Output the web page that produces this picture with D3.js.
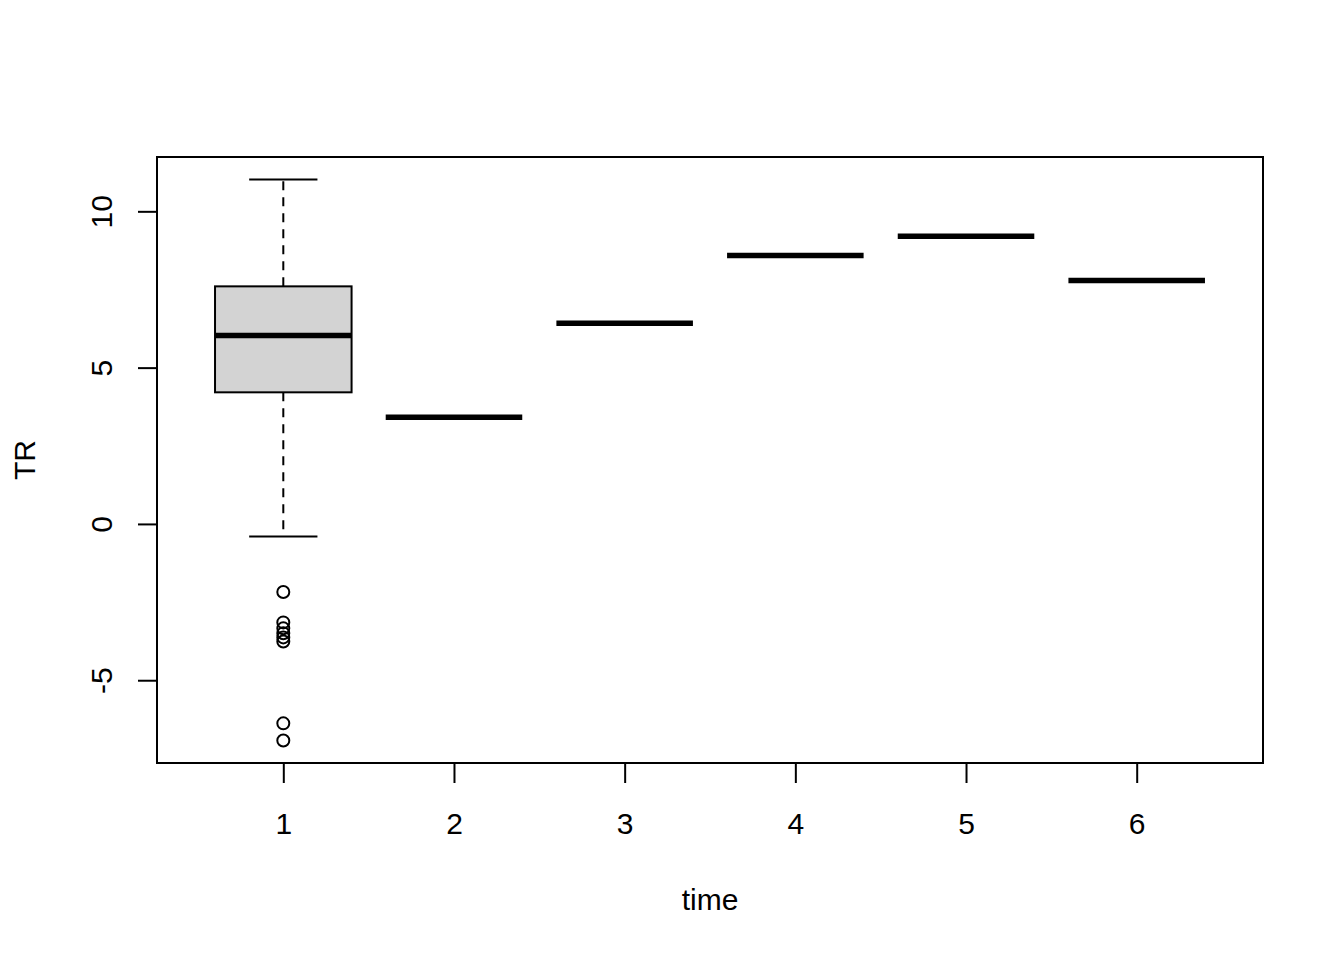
<!DOCTYPE html>
<html>
<head>
<meta charset="utf-8">
<script src="https://cdn.jsdelivr.net/npm/d3@7"></script>
<style>
  body { margin: 0; background: #fff; }
  svg { display: block; font-family: "Liberation Sans", Arial, sans-serif; }
</style>
</head>
<body>
<svg id="chart" width="1344" height="960"></svg>
<script>
// groups on the x axis
var times = [1, 2, 3, 4, 5, 6];
// box statistics per group (groups 2..6 hold a single value)
var lowWhisker  = [-0.4, 3.41, 6.42, 8.59, 9.2, 7.79];
var lowerQ      = [4.21, 3.41, 6.42, 8.59, 9.2, 7.79];
var medians     = [6.03, 3.41, 6.42, 8.59, 9.2, 7.79];
var upperQ      = [7.6, 3.41, 6.42, 8.59, 9.2, 7.79];
var highWhisker = [11.02, 3.41, 6.42, 8.59, 9.2, 7.79];
// outliers of group 1
var outliers = [-2.18, -3.15, -3.34, -3.5, -3.63, -3.76, -6.38, -6.93];
var yTicks = [-5, 0, 5, 10];

var svg = d3.select('#chart');
var pLeft = 157, pRight = 1263, pTop = 157, pBottom = 763;
var fontSize = 30;

var yLo = d3.min(outliers), yHi = d3.max(highWhisker);
var pad = (yHi - yLo) * 0.04;
var y = d3.scaleLinear().domain([yLo - pad, yHi + pad]).range([pBottom, pTop]);
var x = d3.scaleLinear().domain([0.5 - 0.24, 6.5 + 0.24]).range([pLeft, pRight]);

var boxW = (x(2) - x(1)) * 0.8;

var g = svg.append('g');

// whiskers, boxes, medians
times.forEach(function (t, i) {
    if (highWhisker[i] > upperQ[i]) {
        g.append('line').attr('x1', x(t)).attr('x2', x(t))
            .attr('y1', y(upperQ[i])).attr('y2', y(highWhisker[i]))
            .attr('stroke', '#000').attr('stroke-width', 2).attr('stroke-dasharray', '9,7');
        g.append('line').attr('x1', x(t) - boxW / 4).attr('x2', x(t) + boxW / 4)
            .attr('y1', y(highWhisker[i])).attr('y2', y(highWhisker[i]))
            .attr('stroke', '#000').attr('stroke-width', 2);
    }
    if (lowWhisker[i] < lowerQ[i]) {
        g.append('line').attr('x1', x(t)).attr('x2', x(t))
            .attr('y1', y(lowerQ[i])).attr('y2', y(lowWhisker[i]))
            .attr('stroke', '#000').attr('stroke-width', 2).attr('stroke-dasharray', '9,7');
        g.append('line').attr('x1', x(t) - boxW / 4).attr('x2', x(t) + boxW / 4)
            .attr('y1', y(lowWhisker[i])).attr('y2', y(lowWhisker[i]))
            .attr('stroke', '#000').attr('stroke-width', 2);
    }
    if (upperQ[i] > lowerQ[i]) {
        g.append('rect').attr('x', x(t) - boxW / 2).attr('width', boxW)
            .attr('y', y(upperQ[i])).attr('height', y(lowerQ[i]) - y(upperQ[i]))
            .attr('fill', '#d3d3d3').attr('stroke', '#000').attr('stroke-width', 2);
    }
    g.append('line').attr('x1', x(t) - boxW / 2).attr('x2', x(t) + boxW / 2)
        .attr('y1', y(medians[i])).attr('y2', y(medians[i]))
        .attr('stroke', '#000').attr('stroke-width', 5.5);
});

g.selectAll('circle.out').data(outliers).enter().append('circle')
    .attr('class', 'out')
    .attr('cx', x(1)).attr('cy', function (d) { return y(d); })
    .attr('r', 6).attr('fill', 'none').attr('stroke', '#000').attr('stroke-width', 2);

// plot frame
svg.append('rect').attr('x', pLeft).attr('y', pTop)
    .attr('width', pRight - pLeft).attr('height', pBottom - pTop)
    .attr('fill', 'none').attr('stroke', '#000').attr('stroke-width', 2);

// x axis
var xAxis = d3.axisBottom(x).tickValues(times).tickSize(20).tickFormat(function (d) { return String(d); });
var gx = svg.append('g').attr('transform', 'translate(0,' + pBottom + ')').call(xAxis);
gx.select('.domain').attr('d', 'M' + x(1) + ',0H' + x(6)).attr('stroke-width', 2);
gx.selectAll('line').attr('stroke-width', 2);
gx.selectAll('text')
    .attr('font-size', fontSize).attr('font-family', 'Liberation Sans, Arial, sans-serif').attr('fill', '#000')
    .attr('y', 71).attr('dy', null);

// y axis with rotated labels (plain hyphen for negatives, as in R)
var yAxis = d3.axisLeft(y).tickValues(yTicks).tickSize(19).tickFormat(function (d) { return String(d); });
var gy = svg.append('g').attr('transform', 'translate(' + pLeft + ',0)').call(yAxis);
gy.select('.domain').attr('d', 'M0,' + y(-5) + 'V' + y(10)).attr('stroke-width', 2);
gy.selectAll('line').attr('stroke-width', 2);
gy.selectAll('.tick text')
    .attr('font-size', fontSize).attr('font-family', 'Liberation Sans, Arial, sans-serif').attr('fill', '#000')
    .attr('x', 0).attr('y', 0).attr('dy', null)
    .attr('text-anchor', 'middle')
    .attr('transform', 'translate(-45,0) rotate(-90)');

// axis titles
svg.append('text').attr('x', (pLeft + pRight) / 2).attr('y', 910)
    .attr('text-anchor', 'middle').attr('font-size', fontSize).text('time');
svg.append('text').attr('transform', 'translate(35,' + ((pTop + pBottom) / 2) + ') rotate(-90)')
    .attr('text-anchor', 'middle').attr('font-size', fontSize).text('TR');
</script>
</body>
</html>
